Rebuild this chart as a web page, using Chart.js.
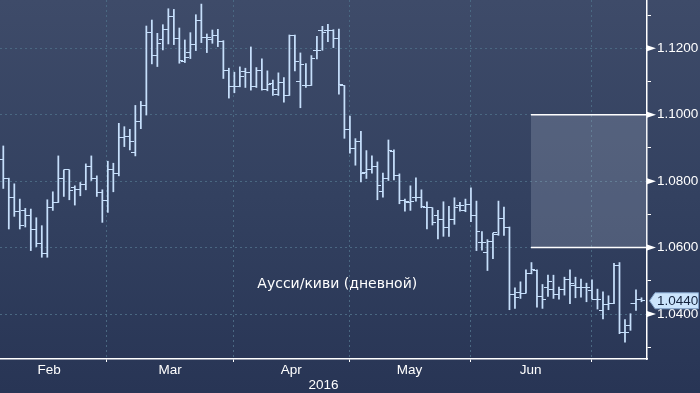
<!DOCTYPE html>
<html>
<head>
<meta charset="utf-8">
<title>Аусси/киви</title>
<script src="https://cdn.jsdelivr.net/npm/chart.js@4.4.1/dist/chart.umd.min.js"></script>
<style>
  html, body { margin: 0; padding: 0; background: #2b3857; }
</style>
</head>
<body>
<canvas id="audnzdChart" width="700" height="393"></canvas>
<script>
// Daily AUD/NZD bars, one per trading day (index 0 = 3 Feb 2016, last = 14 Jul 2016)
const opens = [
  1.0864, 1.0808, 1.0752, 1.0710, 1.0712, 1.0696, 1.0656, 1.0613, 1.0583, 1.0720,
  1.0736, 1.0808, 1.0834, 1.0782, 1.0776, 1.0790, 1.0844, 1.0808, 1.0766, 1.0742,
  1.0836, 1.0824, 1.0930, 1.0934, 1.0886, 1.0980, 1.1029, 1.1247, 1.1179, 1.1225,
  1.1257, 1.1297, 1.1229, 1.1161, 1.1187, 1.1211, 1.1285, 1.1233, 1.1225, 1.1237,
  1.1221, 1.1133, 1.1084, 1.1084, 1.1130, 1.1128, 1.1086, 1.1134, 1.1076, 1.1094,
  1.1060, 1.1098, 1.1058, 1.1238, 1.1100, 1.1088, 1.1088, 1.1194, 1.1254, 1.1254,
  1.1254, 1.1230, 1.1088, 1.0954, 1.0898, 1.0920, 1.0826, 1.0836, 1.0844, 1.0770,
  1.0808, 1.0888, 1.0816, 1.0742, 1.0736, 1.0752, 1.0752, 1.0722, 1.0720, 1.0696,
  1.0684, 1.0662, 1.0684, 1.0728, 1.0712, 1.0730, 1.0698, 1.0616, 1.0586, 1.0618,
  1.0640, 1.0688, 1.0662, 1.0459, 1.0465, 1.0463, 1.0523, 1.0531, 1.0453, 1.0481,
  1.0475, 1.0459, 1.0473, 1.0505, 1.0487, 1.0481, 1.0481, 1.0471, 1.0445, 1.0411,
  1.0429, 1.0431, 1.0545, 1.0343, 1.0365, 1.0433, 1.0443
];
const highs = [
  1.0906, 1.0809, 1.0792, 1.0746, 1.0718, 1.0716, 1.0690, 1.0666, 1.0744, 1.0768,
  1.0876, 1.0834, 1.0834, 1.0786, 1.0796, 1.0852, 1.0876, 1.0816, 1.0774, 1.0860,
  1.0854, 1.0974, 1.0964, 1.0956, 1.1028, 1.1040, 1.1267, 1.1285, 1.1245, 1.1271,
  1.1319, 1.1317, 1.1261, 1.1225, 1.1247, 1.1301, 1.1333, 1.1243, 1.1255, 1.1257,
  1.1223, 1.1140, 1.1128, 1.1144, 1.1140, 1.1204, 1.1142, 1.1168, 1.1132, 1.1104,
  1.1126, 1.1112, 1.1240, 1.1240, 1.1186, 1.1154, 1.1178, 1.1236, 1.1266, 1.1272,
  1.1256, 1.1258, 1.1088, 1.0996, 1.0928, 1.0950, 1.0892, 1.0876, 1.0858, 1.0824,
  1.0924, 1.0894, 1.0822, 1.0746, 1.0786, 1.0810, 1.0774, 1.0738, 1.0720, 1.0712,
  1.0738, 1.0724, 1.0750, 1.0736, 1.0746, 1.0780, 1.0740, 1.0648, 1.0624, 1.0644,
  1.0740, 1.0722, 1.0662, 1.0479, 1.0497, 1.0533, 1.0555, 1.0533, 1.0489, 1.0517,
  1.0517, 1.0481, 1.0511, 1.0533, 1.0511, 1.0505, 1.0493, 1.0503, 1.0475, 1.0467,
  1.0455, 1.0553, 1.0555, 1.0383, 1.0401, 1.0473, 1.0449
];
const lows = [
  1.0778, 1.0656, 1.0694, 1.0656, 1.0662, 1.0591, 1.0603, 1.0571, 1.0571, 1.0712,
  1.0736, 1.0754, 1.0744, 1.0728, 1.0756, 1.0774, 1.0802, 1.0754, 1.0676, 1.0706,
  1.0768, 1.0816, 1.0904, 1.0894, 1.0876, 1.0958, 1.0999, 1.1153, 1.1145, 1.1195,
  1.1213, 1.1211, 1.1155, 1.1157, 1.1169, 1.1193, 1.1217, 1.1187, 1.1215, 1.1205,
  1.1109, 1.1050, 1.1066, 1.1084, 1.1082, 1.1074, 1.1082, 1.1074, 1.1072, 1.1058,
  1.1058, 1.1038, 1.1058, 1.1132, 1.1021, 1.1082, 1.1088, 1.1168, 1.1194, 1.1220,
  1.1202, 1.1062, 1.0929, 1.0884, 1.0848, 1.0798, 1.0808, 1.0824, 1.0744, 1.0752,
  1.0802, 1.0804, 1.0732, 1.0710, 1.0712, 1.0740, 1.0720, 1.0656, 1.0668, 1.0626,
  1.0634, 1.0634, 1.0670, 1.0710, 1.0708, 1.0678, 1.0591, 1.0592, 1.0531, 1.0567,
  1.0637, 1.0637, 1.0413, 1.0417, 1.0447, 1.0463, 1.0521, 1.0421, 1.0417, 1.0453,
  1.0447, 1.0445, 1.0457, 1.0431, 1.0449, 1.0451, 1.0437, 1.0445, 1.0415, 1.0385,
  1.0413, 1.0431, 1.0341, 1.0315, 1.0351, 1.0411, 1.0437
];
const closes = [
  1.0808, 1.0752, 1.0710, 1.0668, 1.0696, 1.0656, 1.0613, 1.0583, 1.0720, 1.0736,
  1.0808, 1.0834, 1.0772, 1.0776, 1.0790, 1.0844, 1.0808, 1.0766, 1.0742, 1.0836,
  1.0824, 1.0930, 1.0934, 1.0920, 1.0980, 1.1029, 1.1247, 1.1179, 1.1213, 1.1257,
  1.1297, 1.1229, 1.1163, 1.1173, 1.1211, 1.1285, 1.1233, 1.1233, 1.1237, 1.1221,
  1.1133, 1.1084, 1.1084, 1.1116, 1.1128, 1.1086, 1.1134, 1.1076, 1.1090, 1.1076,
  1.1098, 1.1058, 1.1238, 1.1160, 1.1152, 1.1088, 1.1168, 1.1194, 1.1248, 1.1254,
  1.1230, 1.1092, 1.0954, 1.0898, 1.0920, 1.0824, 1.0836, 1.0844, 1.0788, 1.0808,
  1.0892, 1.0816, 1.0742, 1.0738, 1.0738, 1.0752, 1.0724, 1.0720, 1.0676, 1.0684,
  1.0662, 1.0684, 1.0722, 1.0728, 1.0730, 1.0698, 1.0648, 1.0616, 1.0618, 1.0644,
  1.0688, 1.0662, 1.0459, 1.0449, 1.0463, 1.0523, 1.0533, 1.0453, 1.0445, 1.0499,
  1.0459, 1.0473, 1.0505, 1.0493, 1.0481, 1.0481, 1.0479, 1.0445, 1.0445, 1.0429,
  1.0431, 1.0545, 1.0343, 1.0345, 1.0433, 1.0443, 1.0440
];

// Months: index of the first trading day of each month (Feb 1 is off the left edge)
const monthNames = ["Feb", "Mar", "Apr", "May", "Jun"];
const monthStarts = [-2, 19, 42, 63, 85, 107];
const yearLabel = "2016";

// Right axis ticks, labelled every 0.02
const yTicks = [1.03, 1.04, 1.05, 1.06, 1.07, 1.08, 1.09, 1.10, 1.11, 1.12, 1.13];
const yLabelled = [1.04, 1.06, 1.08, 1.10, 1.12];

// Target zone box and last price tag
const zoneTop = 1.10;
const zoneBottom = 1.06;
const zoneStart = 95.9;
const lastPrice = 1.0440;
const noteText = "Аусси/киви (дневной)";

// View window
const xMin = -0.6;
const xMax = 117.0;
const yMin = 1.02647;
const yMax = 1.13453;

const barColor = "#c6dffb";
const gridColor = "#4a6882";
const labelFont = { family: "Liberation Sans", size: 13.5 };

// open tick sits left of the bar, close tick right of it
const makeTick = (side) => {
  const c = document.createElement("canvas");
  c.width = 8;
  c.height = 1;
  const g = c.getContext("2d");
  g.fillStyle = barColor;
  g.fillRect(side === "open" ? 0 : 4, 0, 4, 1);
  return c;
};

// x ticks: month boundaries carry gridlines, month middles carry the names
const boundaries = monthStarts.map((s) => s - 0.16);
const xTickValues = [];
const xTickLabels = [];
monthNames.forEach((name, m) => {
  const mid = (boundaries[m] + boundaries[m + 1]) / 2;
  xTickValues.push(mid);
  xTickLabels.push(name);
  if (boundaries[m + 1] < xMax) {
    xTickValues.push(boundaries[m + 1]);
    xTickLabels.push("");
  }
});
const isBoundary = (v) => boundaries.some((b) => Math.abs(b - v) < 1e-6);
const isLabelled = (v) => yLabelled.some((t) => Math.abs(t - v) < 1e-6);

// drop the half-label margins chart.js adds so the plot touches the top edge
const noMargins = (s) => {
  s.paddingTop = 0;
  s.paddingBottom = 0;
  s.paddingLeft = 0;
  s.paddingRight = 0;
};

const backgroundPlugin = {
  id: "bg",
  beforeDraw(chart) {
    const { ctx, width, height } = chart;
    const grad = ctx.createLinearGradient(0, 0, 0, height);
    grad.addColorStop(0, "#3e4b69");
    grad.addColorStop(0.5, "#334160");
    grad.addColorStop(1, "#283555");
    ctx.save();
    ctx.fillStyle = grad;
    ctx.fillRect(0, 0, width, height);
    ctx.restore();
  },
};

const decorPlugin = {
  id: "decor",
  afterDraw(chart) {
    const { ctx } = chart;
    const x = chart.scales.x;
    const y = chart.scales.y;
    const axisX = y.left;
    ctx.save();

    // little arrows on labelled price ticks
    ctx.fillStyle = "#ffffff";
    yLabelled.forEach((v) => {
      const py = y.getPixelForValue(v);
      ctx.beginPath();
      ctx.moveTo(axisX, py - 3);
      ctx.lineTo(axisX + 9, py);
      ctx.lineTo(axisX, py + 3);
      ctx.closePath();
      ctx.fill();
    });

    // last price tag
    const py = y.getPixelForValue(lastPrice);
    ctx.beginPath();
    ctx.moveTo(axisX + 2.5, py);
    ctx.lineTo(axisX + 8, py - 8);
    ctx.lineTo(698.5, py - 8);
    ctx.lineTo(698.5, py + 8);
    ctx.lineTo(axisX + 8, py + 8);
    ctx.closePath();
    ctx.fillStyle = "#cbe4fc";
    ctx.fill();
    ctx.strokeStyle = "#7f9fc6";
    ctx.lineWidth = 1;
    ctx.stroke();
    ctx.fillStyle = "#15243f";
    ctx.font = `${labelFont.size}px ${labelFont.family}`;
    ctx.textBaseline = "middle";
    ctx.textAlign = "left";
    ctx.fillText(lastPrice.toFixed(4), axisX + 10, py + 1);

    // chart note
    ctx.fillStyle = "#ffffff";
    ctx.font = "14px 'DejaVu Sans'";
    ctx.textAlign = "center";
    ctx.fillText(noteText, x.getPixelForValue(60.7), y.getPixelForValue(1.0490));
    ctx.restore();
  },
};

const ctx = document.getElementById("audnzdChart").getContext("2d");

const audnzdChart = new Chart(ctx, {
  type: "bar",
  data: {
    datasets: [
      {
        type: "line",
        data: [{ x: zoneStart, y: zoneTop }, { x: xMax, y: zoneTop }],
        borderColor: "#ffffff",
        borderWidth: 1.5,
        pointRadius: 0,
        fill: "+1",
        backgroundColor: "rgba(190, 200, 220, 0.22)",
        order: 5,
      },
      {
        type: "line",
        data: [{ x: zoneStart, y: zoneBottom }, { x: xMax, y: zoneBottom }],
        borderColor: "#ffffff",
        borderWidth: 1.5,
        pointRadius: 0,
        fill: false,
        order: 4,
      },
      {
        type: "bar",
        data: highs.map((h, i) => ({ x: i, y: [lows[i], h] })),
        backgroundColor: barColor,
        borderWidth: 0,
        barThickness: 1.1,
        order: 2,
      },
      {
        type: "scatter",
        data: opens.map((o, i) => ({ x: i, y: o })),
        pointStyle: makeTick("open"),
        pointRadius: 2,
        order: 1,
      },
      {
        type: "scatter",
        data: closes.map((c, i) => ({ x: i, y: c })),
        pointStyle: makeTick("close"),
        pointRadius: 2,
        order: 0,
      },
    ],
  },
  options: {
    responsive: false,
    animation: false,
    devicePixelRatio: 1,
    events: [],
    layout: { padding: 0, autoPadding: false },
    plugins: {
      legend: { display: false },
      tooltip: { enabled: false },
    },
    scales: {
      x: {
        type: "linear",
        min: xMin,
        max: xMax,
        offset: false,
        afterBuildTicks: (s) => {
          s.ticks = xTickValues.map((v) => ({ value: v }));
        },
        afterFit: (s) => {
          s.height = 34;
          noMargins(s);
        },
        grid: {
          offset: false,
          color: (c) => (c.tick && isBoundary(c.tick.value) ? gridColor : "transparent"),
          tickColor: (c) => (c.tick && isBoundary(c.tick.value) ? "#ffffff" : "transparent"),
          tickLength: 3,
        },
        border: { color: "#ffffff", width: 1.5, dash: [2, 3] },
        ticks: {
          color: "#ffffff",
          font: labelFont,
          padding: 0,
          autoSkip: false,
          maxRotation: 0,
          callback: (v, i) => xTickLabels[i],
        },
        title: {
          display: true,
          text: yearLabel,
          color: "#ffffff",
          font: labelFont,
          padding: 0,
        },
      },
      y: {
        position: "right",
        min: yMin,
        max: yMax,
        afterBuildTicks: (s) => {
          s.ticks = yTicks.map((v) => ({ value: v }));
        },
        afterFit: (s) => {
          s.width = 53;
          noMargins(s);
        },
        grid: {
          color: (c) => (c.tick && isLabelled(c.tick.value) ? gridColor : "transparent"),
          tickColor: "#ffffff",
          tickLength: 4,
        },
        border: { color: "#ffffff", width: 1.5, dash: [2, 3] },
        ticks: {
          color: "#ffffff",
          font: labelFont,
          padding: 6,
          callback: (v) => (isLabelled(v) ? v.toFixed(4) : ""),
        },
      },
    },
  },
  plugins: [backgroundPlugin, decorPlugin],
});
</script>
</body>
</html>
